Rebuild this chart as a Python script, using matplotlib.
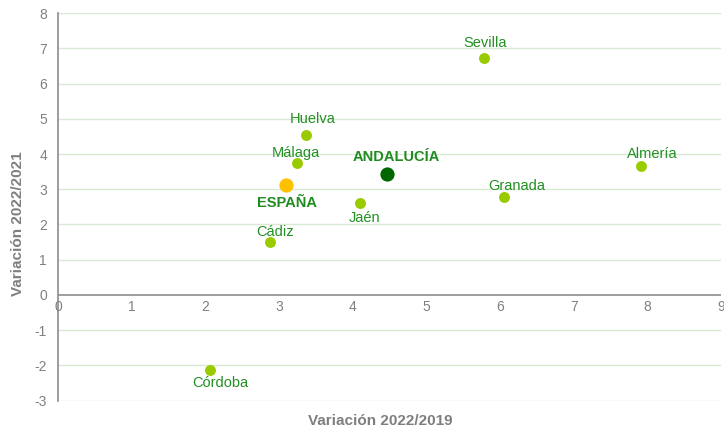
import matplotlib
matplotlib.use("Agg")
import matplotlib.pyplot as plt

plt.rcParams['font.family'] = ['Liberation Sans', 'DejaVu Sans']
plt.rcParams['axes.unicode_minus'] = False

# Provincias
provincias = ["Almería", "Cádiz", "Córdoba", "Granada", "Huelva", "Jaén", "Málaga", "Sevilla"]
var_2019 = [7.91, 2.88, 2.07, 6.06, 3.36, 4.10, 3.24, 5.78]
var_2021 = [3.66, 1.49, -2.13, 2.77, 4.53, 2.60, 3.76, 6.74]
# label centre offset from its dot, in pixels (right, up)
label_off = {
    "Almería": (12, 12),
    "Cádiz": (5, 10),
    "Córdoba": (10, -13),
    "Granada": (12, 11),
    "Huelva": (7, 16),
    "Jaén": (5, -15),
    "Málaga": (-1, 10),
    "Sevilla": (1, 15),
}

# Totales
andalucia = (4.47, 3.44)
espana = (3.09, 3.13)

x_ticks = [0, 1, 2, 3, 4, 5, 6, 7, 8, 9]
y_ticks = [-3, -2, -1, 0, 1, 2, 3, 4, 5, 6, 7, 8]

LABEL_GREEN = "#229022"
DOT_GREEN = "#99CC00"
GRID = "#D9EAD3"
GREY = "#808080"
PX = 0.72  # points per pixel at 100 dpi

fig = plt.figure(figsize=(7.24, 4.33), dpi=100)
ax = fig.add_axes([58 / 724, 1 - 400.5 / 433, (721 - 58) / 724, (400.5 - 13.3) / 433])

ax.set_xlim(0, 9)
ax.set_ylim(-3, 8)
ax.set_yticks(y_ticks)
ax.set_yticklabels([str(v) for v in y_ticks])
ax.set_xticks(x_ticks)

for y in y_ticks:
    if y != 0:
        ax.axhline(y, color=GRID, lw=1.0, zorder=0)
ax.axhline(0, color="#8C8C8C", lw=1.2, zorder=1)

for s in ["top", "right", "bottom"]:
    ax.spines[s].set_visible(False)
ax.spines["left"].set_color("#8C8C8C")
ax.spines["left"].set_linewidth(1.2)

ax.tick_params(axis="both", length=0, colors=GREY, labelsize=10)
ax.tick_params(axis="y", pad=8)
ax.set_xticklabels([])

# x tick labels sit just under the zero line
for x in x_ticks:
    ax.annotate(str(x), (x, 0), xytext=(0, -12 * PX), textcoords="offset points",
                ha="center", va="center", color=GREY, fontsize=10)

ax.scatter(var_2019, var_2021, s=62, color=DOT_GREEN, zorder=3, linewidths=0)
for name, x, y in zip(provincias, var_2019, var_2021):
    dx, dy = label_off[name]
    ax.annotate(name, (x, y), xytext=(dx * PX, dy * PX), textcoords="offset points",
                ha="center", va="center", color=LABEL_GREEN, fontsize=10.5)

ax.scatter([andalucia[0]], [andalucia[1]], s=105, color="#006600", zorder=4, linewidths=0)
ax.annotate("ANDALUCÍA", andalucia, xytext=(9 * PX, 17 * PX), textcoords="offset points",
            ha="center", va="center", color="#1E8C1E", fontsize=10.5, fontweight="bold")

ax.scatter([espana[0]], [espana[1]], s=105, color="#FFC000", zorder=4, linewidths=0)
ax.annotate("ESPAÑA", espana, xytext=(1 * PX, -18 * PX), textcoords="offset points",
            ha="center", va="center", color="#1E8C1E", fontsize=10.5, fontweight="bold")

fig.text(380 / 724, 1 - 421 / 433, "Variación 2022/2019", ha="center", va="center",
         color="#7F7F7F", fontsize=11, fontweight="bold")
fig.text(18 / 724, 1 - 224 / 433, "Variación 2022/2021", ha="center", va="center",
         rotation=90, color="#7F7F7F", fontsize=11, fontweight="bold")

fig.savefig("out.png", dpi=100)
